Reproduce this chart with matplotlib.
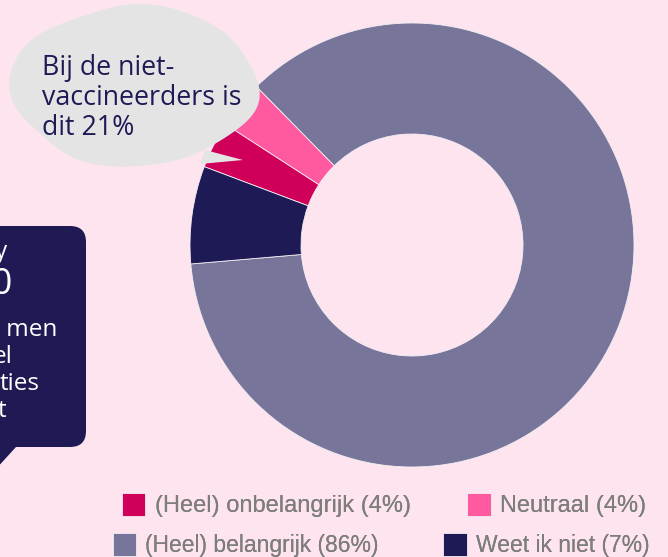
import numpy as np
import matplotlib
matplotlib.use("Agg")
import matplotlib.pyplot as plt
from matplotlib.patches import Polygon, FancyBboxPatch

# data
labels = ["(Heel) belangrijk", "Neutraal", "(Heel) onbelangrijk", "Weet ik niet"]
values = [86.0, 3.5, 3.4, 7.1]
pct_text = ["(86%)", "(4%)", "(4%)", "(7%)"]
colors = ["#77759a", "#ff5aa0", "#d0005a", "#1e1a55"]

bg = "#fde4ef"
navy = "#1e1a55"

W, H = 668, 557
fig = plt.figure(figsize=(W / 100, H / 100), dpi=100, facecolor=bg)

# donut, centre (412, 245) px, radius 222 px
cx, cy, r = 412, 245, 222
ax = fig.add_axes([(cx - r) / W, (H - cy - r) / H, 2 * r / W, 2 * r / H])
ax.set_facecolor("none")
wedges, _ = ax.pie(values, colors=colors, startangle=184.9, counterclock=True,
                   radius=1, wedgeprops=dict(width=0.5, edgecolor="#f4eef4", linewidth=0.6))
ax.set_xlim(-1, 1)
ax.set_ylim(-1, 1)
ax.axis("off")

# overlay in pixel coords for the callouts
ov = fig.add_axes([0, 0, 1, 1], facecolor="none")
ov.set_xlim(0, W)
ov.set_ylim(H, 0)
ov.axis("off")

# cloud bubble
t = np.linspace(0, 2 * np.pi, 200)
rad = 1 + 0.025 * np.sin(4 * t + 0.6) + 0.01 * np.sin(7 * t)
xs = 134 + 123 * rad * np.cos(t)
ys = 86 + 80 * rad * np.sin(t)
ov.add_patch(Polygon(np.column_stack([xs, ys]), closed=True, fc="#e4e4e4", ec="none", zorder=5))
ov.add_patch(Polygon([[205, 150], [243, 160], [200, 164]], closed=True, fc="#e4e4e4", ec="none", zorder=5))
ov.text(42, 98, "Bij de niet-\nvaccineerders is\ndit 21%", fontsize=19.3, color=navy,
        family="Open Sans", va="center", ha="left", linespacing=1.1, zorder=6)

# navy box cut off at the left edge
ov.add_patch(FancyBboxPatch((-40, 226), 126, 221, boxstyle="round,pad=0,rounding_size=16",
                            fc="#1f1a54", ec="none", zorder=5))
ov.add_patch(Polygon([[-5, 440], [16, 447], [-5, 470]], closed=True, fc="#1f1a54", ec="none", zorder=5))
ov.text(8, 252, "wy", fontsize=17, color="white", family="Open Sans", ha="right", va="center", zorder=6)
ov.text(13, 285, "20", fontsize=26, color="white", family="Open Sans", ha="right", va="center", zorder=6)
lines = ["nemen men", "el", "ties", "t"]
ends = [57, 13, 40, 6]
for i, (s, e) in enumerate(zip(lines, ends)):
    ov.text(e, 330 + i * 27, s, fontsize=17.5, color="white", family="Open Sans",
            ha="right", va="center", zorder=6)

# legend: two rows
order = [[2, 1], [0, 3]]
rows_y = [505, 545]
rows_x = [384, 381]
spacing = [2.4, 2.8]
sizes = [17, 16.5]
for row, yy, xx, cs, fs in zip(order, rows_y, rows_x, spacing, sizes):
    hs = [wedges[i] for i in row]
    ls = [labels[i] + " " + pct_text[i] for i in row]
    leg = fig.legend(hs, ls, ncol=2, loc="center", bbox_to_anchor=(xx / W, 1 - yy / H),
                     frameon=False, handlelength=1.0 * 17 / fs, handleheight=1.15 * 17 / fs,
                     handletextpad=0.4, columnspacing=cs, borderpad=0,
                     prop=dict(family="Liberation Sans", size=fs))
    for txt in leg.get_texts():
        txt.set_color("#7d7d7d")
    fig.add_artist(leg)

fig.savefig("out.png", dpi=100, facecolor=bg)
